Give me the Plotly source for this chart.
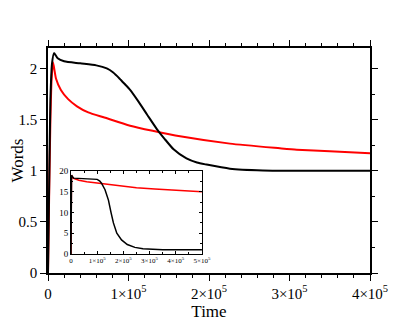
import plotly.graph_objects as go

# main panel: words vs time
t_black = [0, 1500, 3000, 5000, 7500, 12000, 20000, 40000, 60000, 73000, 81000, 89000,
           95000, 102000, 112000, 123000, 135000, 145000, 156000, 172000, 185000, 197000,
           226000, 267000, 300000, 400000]
w_black = [0, 0.9, 1.7, 2.05, 2.15, 2.10, 2.07, 2.05, 2.03, 2.0, 1.96, 1.9,
           1.85, 1.79, 1.68, 1.55, 1.41, 1.31, 1.21, 1.12, 1.08, 1.06,
           1.02, 1.003, 1.0, 1.0]

t_red = [0, 1500, 3000, 4500, 6200, 10000, 16000, 25000, 36000, 50000, 70000,
         102000, 130000, 164000, 226000, 288000, 309000, 350000, 400000]
w_red = [0, 0.8, 1.5, 1.9, 2.06, 1.9, 1.79, 1.70, 1.63, 1.57, 1.52,
         1.44, 1.39, 1.336, 1.265, 1.22, 1.206, 1.19, 1.17]

# inset panel
ti_black = [0, 2000, 10000, 66000, 100000, 110000, 117000, 130000, 143000, 153000, 162000,
            175000, 193000, 215000, 244000, 275000, 308000, 350000, 500000]
wi_black = [0, 19, 18.3, 18.2, 18.0, 17.6, 17, 15.5, 13, 10, 7.5,
            5, 3.4, 2.3, 1.6, 1.25, 1.1, 1.0, 1.0]

ti_red = [0, 2000, 8000, 30000, 60000, 120000, 180000, 250000, 320000, 400000, 500000]
wi_red = [0, 19, 18.3, 17.8, 17.4, 16.9, 16.5, 16.0, 15.7, 15.4, 15.0]

main_ticks = [0, 100000, 200000, 300000, 400000]
main_labels = ['0', '1×10<sup>5</sup>', '2×10<sup>5</sup>', '3×10<sup>5</sup>', '4×10<sup>5</sup>']
inset_ticks = [0, 100000, 200000, 300000, 400000, 500000]
inset_labels = ['0', '1×10<sup>5</sup>', '2×10<sup>5</sup>', '3×10<sup>5</sup>',
                '4×10<sup>5</sup>', '5×10<sup>5</sup>']

RED = '#ff0000'
FONT = 'Liberation Serif'

fig = go.Figure()

fig.add_trace(go.Scatter(x=t_red, y=w_red, mode='lines',
                         line=dict(color=RED, width=2, shape='spline', smoothing=0.6),
                         xaxis='x', yaxis='y'))
fig.add_trace(go.Scatter(x=t_black, y=w_black, mode='lines',
                         line=dict(color='black', width=2, shape='spline', smoothing=0.6),
                         xaxis='x', yaxis='y'))

fig.add_trace(go.Scatter(x=ti_red, y=wi_red, mode='lines',
                         line=dict(color=RED, width=1.5), xaxis='x2', yaxis='y2'))
fig.add_trace(go.Scatter(x=ti_black, y=wi_black, mode='lines',
                         line=dict(color='black', width=1.5), xaxis='x2', yaxis='y2'))

# page body has an 8px margin, so the figure is a little smaller than the window
fig.update_layout(
    width=407, height=314,
    margin=dict(l=40, r=45, t=40, b=49),
    showlegend=False,
    plot_bgcolor='white',
    paper_bgcolor='white',
    font=dict(family=FONT, color='black'),
    xaxis=dict(
        range=[0, 400000], domain=[0, 1], automargin=False,
        tickvals=main_ticks, ticktext=main_labels,
        tickfont=dict(size=15),
        ticks='outside', ticklen=6, tickcolor='black',
        minor=dict(ticks='outside', ticklen=3, dtick=20000, tick0=0, tickcolor='black'),
        showline=True, linecolor='black', linewidth=1.5, mirror='ticks',
        showgrid=False, zeroline=False,
        title=dict(text='Time', font=dict(size=17), standoff=0),
    ),
    yaxis=dict(
        range=[0, 2.2], domain=[0, 1], automargin=False,
        tickvals=[0, 0.5, 1, 1.5, 2], ticktext=['0', '0.5', '1', '1.5', '2'],
        tickfont=dict(size=15),
        ticks='outside', ticklen=6, tickcolor='black',
        minor=dict(ticks='outside', ticklen=3, dtick=0.25, tick0=0, tickcolor='black'),
        showline=True, linecolor='black', linewidth=1.5, mirror='ticks',
        showgrid=False, zeroline=False,
        title=dict(text='Words', font=dict(size=17), standoff=4),
    ),
    xaxis2=dict(
        anchor='y2', domain=[0.0714, 0.478], range=[0, 500000],
        tickvals=inset_ticks, ticktext=inset_labels,
        tickfont=dict(size=7),
        ticks='inside', ticklen=3, tickcolor='black',
        minor=dict(ticks='inside', ticklen=2, dtick=50000, tick0=0, tickcolor='black'),
        showline=True, linecolor='black', linewidth=1, mirror='ticks',
        showgrid=False, zeroline=False,
    ),
    yaxis2=dict(
        anchor='x2', domain=[0.0844, 0.453], range=[0, 20],
        tickvals=[0, 5, 10, 15, 20],
        tickfont=dict(size=9),
        ticks='inside', ticklen=3, tickcolor='black',
        minor=dict(ticks='inside', ticklen=2, dtick=2.5, tick0=0, tickcolor='black'),
        showline=True, linecolor='black', linewidth=1, mirror='ticks',
        showgrid=False, zeroline=False,
    ),
)

fig.write_html("out.html")
